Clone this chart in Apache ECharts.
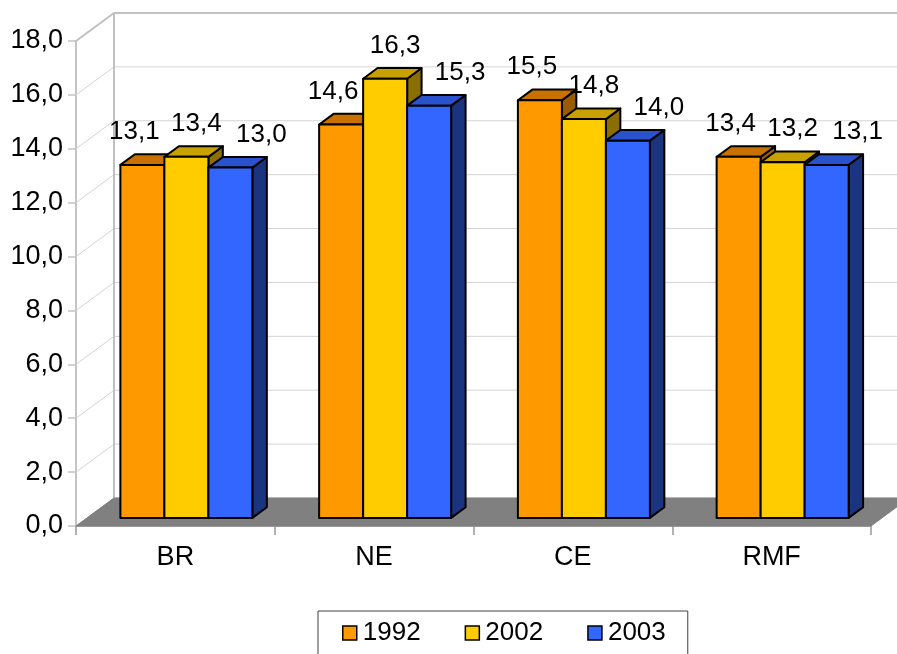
<!DOCTYPE html>
<html>
<head>
<meta charset="utf-8">
<script src="https://cdn.jsdelivr.net/npm/echarts@6/dist/echarts.min.js"></script>
<style>
  html, body { margin: 0; padding: 0; background: #fff; }
  #chart { width: 897px; height: 654px; }
</style>
</head>
<body>
<div id="chart"></div>
<script>
var categories = ['BR', 'NE', 'CE', 'RMF'];
var years = ['1992', '2002', '2003'];
var values1992 = [13.1, 14.6, 15.5, 13.4];
var values2002 = [13.4, 16.3, 14.8, 13.2];
var values2003 = [13.0, 15.3, 14.0, 13.1];
var yTicks = [0, 2, 4, 6, 8, 10, 12, 14, 16, 18];

var font = "'Liberation Sans', Arial, sans-serif";
var fronts = ['#FF9900', '#FFCC00', '#3366FF'];
var tops = ['#C87000', '#C8A000', '#2952CC'];
var sides = ['#995C00', '#8A6E00', '#1B3480'];

// 3D look: depth of the whole box, position/depth of the bar row inside it
var DX = 38, DY = -28;
var FRONT = 0.29, DEPTH = 0.38, BAR_W = 0.2214;
var labelDx = [-8, 10, 31];
var labelDy = -33;

function fmt(v) { return v.toFixed(1).replace('.', ','); }

function wallItem(params, api) {
  var cs = params.coordSys;
  var y = api.coord([0, api.value(1)])[1];
  var gx = cs.x, gw = cs.width;
  var edge = api.value(1) === 18;
  var col = edge ? '#c0c0c0' : '#d4d4d4';
  return {
    type: 'group',
    children: [
      { type: 'line', shape: { x1: gx, y1: y, x2: gx + DX, y2: y + DY },
        style: { stroke: col, lineWidth: edge ? 2 : 1 } },
      { type: 'line', shape: { x1: gx + DX, y1: y + DY, x2: gx + gw + DX, y2: y + DY },
        style: { stroke: col, lineWidth: edge ? 2 : 1 } }
    ]
  };
}

function floorItem(params, api) {
  var cs = params.coordSys;
  var y0 = api.coord([0, 0])[1];
  var y18 = api.coord([0, 18])[1];
  var gx = cs.x, gw = cs.width;
  return {
    type: 'group',
    children: [
      { type: 'line', shape: { x1: gx + DX, y1: y0 + DY, x2: gx + DX, y2: y18 + DY },
        style: { stroke: '#c0c0c0', lineWidth: 2 } },
      { type: 'polygon',
        shape: { points: [[gx, y0], [gx + gw, y0], [gx + gw + DX, y0 + DY], [gx + DX, y0 + DY]] },
        style: { fill: '#808080', stroke: '#808080', lineWidth: 1 } }
    ]
  };
}

function barGeom(api, s) {
  var ci = api.value(0), v = api.value(1);
  var base = api.coord([ci, 0]);
  var top = api.coord([ci, v]);
  var bw = api.size([1, 0])[0] * BAR_W;
  var x0 = base[0] - 1.5 * bw + s * bw + FRONT * DX;
  return { x0: x0, x1: x0 + bw, yb: base[1] + FRONT * DY, yt: top[1] + FRONT * DY, v: v };
}

function barItem(s) {
  return function (params, api) {
    var g = barGeom(api, s);
    var ox = DEPTH * DX, oy = DEPTH * DY;
    var line = { stroke: '#000', lineWidth: 2, lineJoin: 'round' };
    return {
      type: 'group',
      children: [
        { type: 'polygon',
          shape: { points: [[g.x1, g.yt], [g.x1 + ox, g.yt + oy], [g.x1 + ox, g.yb + oy], [g.x1, g.yb]] },
          style: Object.assign({ fill: sides[s] }, line) },
        { type: 'polygon',
          shape: { points: [[g.x0, g.yt], [g.x1, g.yt], [g.x1 + ox, g.yt + oy], [g.x0 + ox, g.yt + oy]] },
          style: Object.assign({ fill: tops[s] }, line) },
        { type: 'rect',
          shape: { x: g.x0, y: g.yt, width: g.x1 - g.x0, height: g.yb - g.yt },
          style: Object.assign({ fill: fronts[s] }, line) }
      ]
    };
  };
}

function labelItem(s) {
  return function (params, api) {
    var g = barGeom(api, s);
    return {
      type: 'text',
      style: {
        text: fmt(g.v), x: (g.x0 + g.x1) / 2 + labelDx[s], y: g.yt + labelDy,
        align: 'center', verticalAlign: 'middle',
        font: '26px ' + font, fill: '#000'
      }
    };
  };
}

function pairs(arr) { return arr.map(function (v, i) { return [i, v]; }); }
var seriesValues = [values1992, values2002, values2003];

var series = [
  { type: 'custom', name: 'wall', renderItem: wallItem, z: 1, silent: true,
    data: yTicks.map(function (v) { return [0, v]; }) },
  { type: 'custom', name: 'floor', renderItem: floorItem, z: 2, silent: true, data: [[0, 0]] }
];
years.forEach(function (y, s) {
  series.push({ type: 'custom', name: y, renderItem: barItem(s), z: 3 + s,
    itemStyle: { color: fronts[s] }, data: pairs(seriesValues[s]) });
});
years.forEach(function (y, s) {
  series.push({ type: 'custom', name: 'label' + y, renderItem: labelItem(s), z: 10, silent: true,
    data: pairs(seriesValues[s]) });
});

var chart = echarts.init(document.getElementById('chart'));
chart.setOption({
  animation: false,
  backgroundColor: '#fff',
  grid: { left: 76, right: 26, top: 41, bottom: 128 },
  legend: {
    data: years,
    left: 318, top: 611,
    padding: [9, 22, 24, 24],
    borderColor: '#404040', borderWidth: 1,
    itemWidth: 14, itemHeight: 14, itemGap: 44,
    icon: 'rect',
    itemStyle: { borderColor: '#000', borderWidth: 1.5 },
    textStyle: { fontFamily: font, fontSize: 26, color: '#000', padding: [0, 0, 0, 1] }
  },
  xAxis: {
    type: 'category',
    data: categories,
    axisLine: { lineStyle: { color: '#999', width: 1.5 } },
    axisTick: { show: true, length: 9, lineStyle: { color: '#999', width: 1.5 } },
    axisLabel: { fontFamily: font, fontSize: 27, color: '#000', margin: 18 },
    splitLine: { show: false }
  },
  yAxis: {
    type: 'value',
    min: 0, max: 18, interval: 2,
    axisLine: { show: true, lineStyle: { color: '#c4c4c4', width: 2 } },
    axisTick: { show: true, length: 8, lineStyle: { color: '#c4c4c4', width: 1.5 } },
    axisLabel: { fontFamily: font, fontSize: 27, color: '#000', margin: 13, formatter: fmt },
    splitLine: { show: false }
  },
  series: series
});
</script>
</body>
</html>
